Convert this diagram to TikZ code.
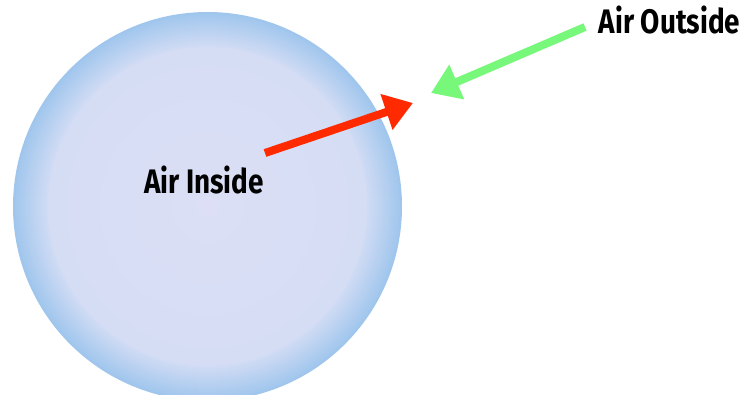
\documentclass[tikz,border=0pt]{standalone}
\usepackage{fontspec}
\setmainfont{Fira Sans}[FakeStretch=0.82]
\usetikzlibrary{arrows.meta}
\definecolor{arrred}{HTML}{FF2A00}
\definecolor{arrgreen}{HTML}{78F87A}
\definecolor{bubin}{HTML}{DCDFF5}
\definecolor{bubmid}{HTML}{D2DCF4}
\definecolor{bubout}{HTML}{A0C6ED}
\pgfdeclareradialshading{bubble}{\pgfpoint{0bp}{0bp}}{color(0bp)=(bubin); color(34bp)=(bubmid); color(50bp)=(bubmid)}
\begin{document}
\begin{tikzpicture}[x=1pt,y=-1pt,
  lbl/.style={font=\bfseries\fontsize{34}{34}\selectfont, inner sep=0pt, anchor=base},
  arr/.style={line width=8pt, -{Triangle[length=28pt,width=36pt]}}]
\useasboundingbox (0,0) rectangle (747,394);
\fill[white] (0,0) rectangle (747,394);
\coordinate (c) at (207.5,206.5);
\begin{scope}
\clip (0,0) rectangle (747,394);
\foreach \i [evaluate=\i as \p using int(\i*100/35)] in {0,...,35} {
  \fill[bubmid!\p!bubout] (c) circle ({194.5-\i});
}
\shade[shading=bubble] (c) circle (159.5);
\end{scope}
\node[lbl] (inside) at (204,193) {Air Inside};
\node[lbl] (outside) at (669.5,33) {Air Outside};
\coordinate (rt) at (265,153);
\coordinate (rh) at (413,103);
\coordinate (gt) at (585,27);
\coordinate (gh) at (431,93);
\draw[arr, arrred] (rt) -- (rh);
\draw[arr, arrgreen] (gt) -- (gh);
\end{tikzpicture}
\end{document}
